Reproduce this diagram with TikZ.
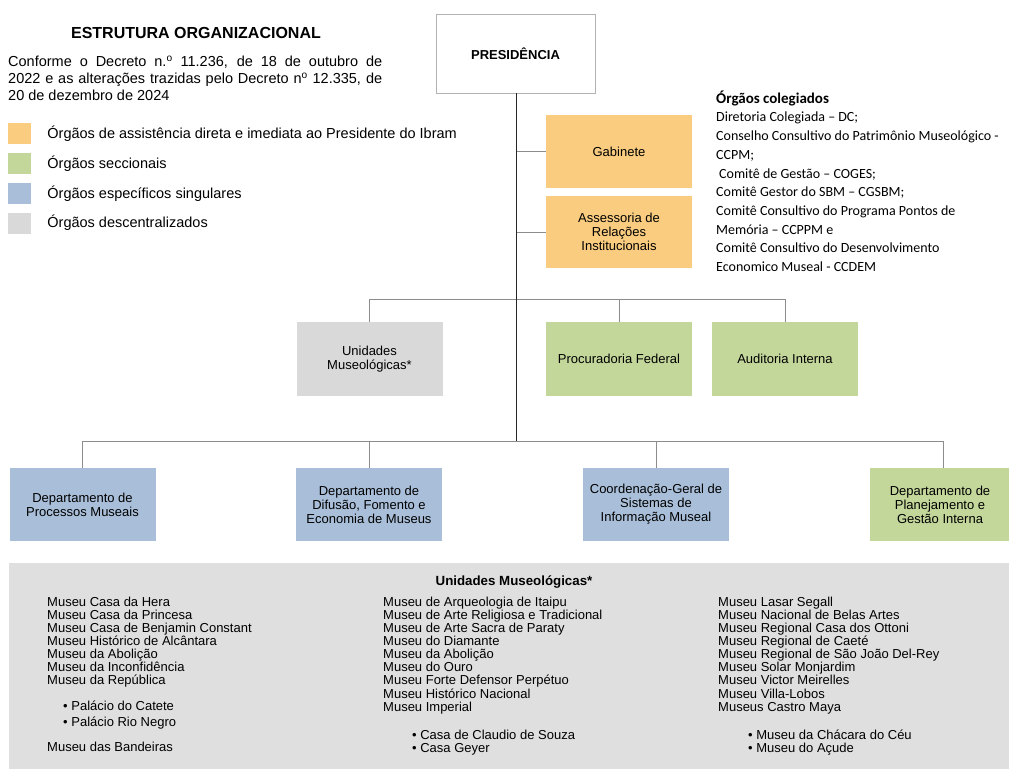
\documentclass[tikz,border=0pt]{standalone}
\usepackage{fontspec}
\setmainfont{Liberation Sans}
\newfontfamily\colfont{Carlito}
\usetikzlibrary{positioning}

\definecolor{orgOrange}{RGB}{249,204,128}
\definecolor{orgGreen}{RGB}{196,215,155}
\definecolor{orgBlue}{RGB}{169,191,217}
\definecolor{orgGray}{RGB}{217,217,217}
\definecolor{panelGray}{RGB}{223,223,223}

\tikzset{
	unit/.style={minimum width=146pt, minimum height=73pt, align=center, inner sep=2pt, font=\fontsize{13}{14}\selectfont},
	branch/.style={draw=black!45, line width=0.8pt},
	trunk/.style={draw=black!85, line width=1pt},
	legendbox/.style={minimum width=23pt, minimum height=21pt, inner sep=0pt},
	legendtext/.style={right=16pt of #1, inner sep=0pt, font=\fontsize{14.5}{16}\selectfont},
	museum/.style={anchor=west, inner sep=0pt, text height=9pt, text depth=2.5pt, font=\fontsize{13}{13}\selectfont},
	colegiado/.style={anchor=west, inner sep=0pt, text height=9.5pt, text depth=3pt, font=\colfont\fontsize{14}{15}\selectfont},
}

\begin{document}
\begin{tikzpicture}[x=1pt, y=-1pt]
	\useasboundingbox (0,0) rectangle (1009,773);

	% title, decree and legend
	\node[font=\bfseries\fontsize{16}{18}\selectfont] (title) at (196,33) {ESTRUTURA ORGANIZACIONAL};
	\node[anchor=north west, text width=374pt, align=justify, inner sep=0pt, font=\fontsize{14.5}{17}\selectfont] (decree) at (8,56)
		{Conforme o Decreto n.\textsuperscript{o} 11.236, de 18 de outubro de\linebreak 2022 e as alterações trazidas pelo Decreto n\textsuperscript{o} 12.335, de\linebreak 20 de dezembro de 2024};

	\node[legendbox, fill=orgOrange] (lg-1) at (19.5,133.5) {};
	\node[legendbox, fill=orgGreen] (lg-2) at (19.5,163.5) {};
	\node[legendbox, fill=orgBlue] (lg-3) at (19.5,193.5) {};
	\node[legendbox, fill=orgGray] (lg-4) at (19.5,223) {};
	\node[legendtext=lg-1] (lt-1) {Órgãos de assistência direta e imediata ao Presidente do Ibram};
	\node[legendtext=lg-2] (lt-2) {Órgãos seccionais};
	\node[legendtext=lg-3] (lt-3) {Órgãos específicos singulares};
	\node[legendtext=lg-4] (lt-4) {Órgãos descentralizados};

	% chart
	\node[draw=black!30, line width=0.8pt, minimum width=159pt, minimum height=79pt, font=\bfseries\fontsize{13}{15}\selectfont] (pres) at (515.5,53.5) {PRESIDÊNCIA};
	\node[unit, fill=orgOrange] (gab) at (619,151.5) {Gabinete};
	\node[unit, fill=orgOrange, minimum height=72pt] (ari) at (619,232) {Assessoria de\\Relações\\Institucionais};

	\node[unit, fill=orgGray, minimum height=74pt] (unid) at (369.5,359) {Unidades\\Museológicas*};
	\node[unit, fill=orgGreen, minimum height=74pt] (pf) at (619,359) {Procuradoria Federal};
	\node[unit, fill=orgGreen, minimum height=74pt] (audit) at (785,359) {Auditoria Interna};

	\node[unit, fill=orgBlue] (dpm) at (82.5,504.5) {Departamento de\\Processos Museais};
	\node[unit, fill=orgBlue] (dfe) at (369,504.5) {Departamento de\\Difusão, Fomento e\\Economia de Museus};
	\node[unit, fill=orgBlue] (cgs) at (656,504.5) {Coordenação-Geral de\\Sistemas de\\Informação Museal};
	\node[unit, fill=orgGreen, minimum width=140pt] (dpg) at (940,504.5) {Departamento de\\Planejamento e\\Gestão Interna};

	\coordinate (bus-1) at (516,299);
	\coordinate (bus-2) at (516,441);
	\draw[branch] (gab.west) -- (gab.west -| bus-1);
	\draw[branch] (ari.west) -- (ari.west -| bus-1);
	\draw[branch] (unid.north) -- (unid.north |- bus-1) -| (audit.north);
	\draw[branch] (pf.north) -- (pf.north |- bus-1);
	\draw[branch] (dpm.north) -- (dpm.north |- bus-2) -| ([xshift=3pt]dpg.north);
	\draw[branch] (dfe.north) -- (dfe.north |- bus-2);
	\draw[branch] (cgs.north) -- (cgs.north |- bus-2);
	\draw[trunk] (pres.south -| bus-1) -- (bus-2);

	% collegiate bodies
	\node[anchor=west, inner sep=0pt, font=\colfont\bfseries\fontsize{15}{17}\selectfont] (colt) at (716,98) {Órgãos colegiados};
	\foreach \txt [count=\i] in {Diretoria Colegiada – DC;,
		Conselho Consultivo do Patrimônio Museológico -,
		CCPM;,
		\hspace*{3pt}Comitê de Gestão – COGES;,
		Comitê Gestor do SBM – CGSBM;,
		Comitê Consultivo do Programa Pontos de,
		Memória – CCPPM e,
		Comitê Consultivo do Desenvolvimento,
		Economico Museal - CCDEM}
		\node[colegiado] (col-\i) at (716,{100+18.7*\i}) {\txt};

	% museums panel
	\node[fill=panelGray, minimum width=1000pt, minimum height=206pt, inner sep=0pt] (panel) at (509,666) {};
	\node[font=\bfseries\fontsize{13.3}{15}\selectfont] (ptitle) at (514,582) {Unidades Museológicas*};

	\foreach \txt [count=\i] in {Museu Casa da Hera, Museu Casa da Princesa, Museu Casa de Benjamin Constant,
		Museu Histórico de Alcântara, Museu da Abolição, Museu da Inconfidência, Museu da República}
		\node[museum] (ma-\i) at (47,{590+13.1*\i}) {\txt};
	\node[museum] (ma-b1) at (63,707) {• Palácio do Catete};
	\node[museum] (ma-b2) at (63,723) {• Palácio Rio Negro};
	\node[museum] (ma-8) at (47,748) {Museu das Bandeiras};

	\foreach \txt [count=\i] in {Museu de Arqueologia de Itaipu, Museu de Arte Religiosa e Tradicional,
		Museu de Arte Sacra de Paraty, Museu do Diamante, Museu da Abolição, Museu do Ouro,
		Museu Forte Defensor Perpétuo, Museu Histórico Nacional, Museu Imperial}
		\node[museum] (mb-\i) at (383,{590+13.1*\i}) {\txt};
	\node[museum] (mb-b1) at (412,736) {• Casa de Claudio de Souza};
	\node[museum] (mb-b2) at (412,749) {• Casa Geyer};

	\foreach \txt [count=\i] in {Museu Lasar Segall, Museu Nacional de Belas Artes, Museu Regional Casa dos Ottoni,
		Museu Regional de Caeté, Museu Regional de São João Del-Rey, Museu Solar Monjardim,
		Museu Victor Meirelles, Museu Villa-Lobos, Museus Castro Maya}
		\node[museum] (mc-\i) at (718,{590+13.1*\i}) {\txt};
	\node[museum] (mc-b1) at (748,736) {• Museu da Chácara do Céu};
	\node[museum] (mc-b2) at (748,749) {• Museu do Açude};
\end{tikzpicture}
\end{document}
